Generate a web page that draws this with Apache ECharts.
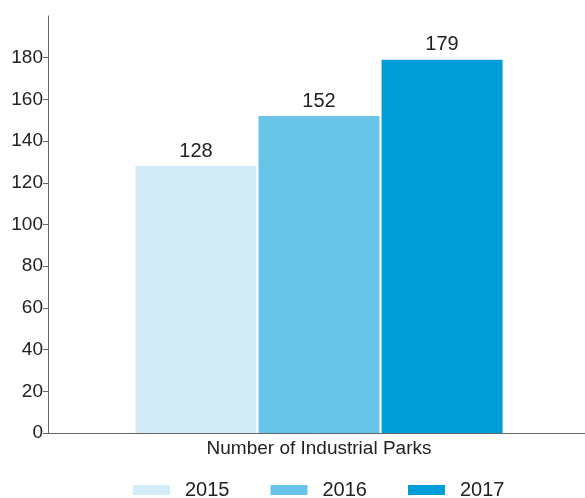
<!DOCTYPE html>
<html><head><meta charset="utf-8">
<script src="https://cdn.jsdelivr.net/npm/echarts@6/dist/echarts.min.js"></script>
<style>html,body{margin:0;padding:0;background:#fff}#c{width:585px;height:498px}</style>
</head><body><div id="c"></div>
<script>
const categories = ["Number of Industrial Parks"];
const seriesNames = ["2015", "2016", "2017"];
const values2015 = [128];
const values2016 = [152];
const values2017 = [179];
const yTicks = [0, 20, 40, 60, 80, 100, 120, 140, 160, 180];
const colors = ["#d3ecf7", "#68c4e8", "#009ed9"];
const allValues = [values2015, values2016, values2017];
const font = "Liberation Sans";
const chart = echarts.init(document.getElementById('c'));
chart.setOption({
  animation: false,
  textStyle: { fontFamily: font },
  grid: { left: 48, top: 16, right: -5, height: 417, containLabel: false, outerBoundsMode: 'none' },
  legend: {
    left: 133, top: 480, padding: 0, icon: 'rect',
    itemWidth: 37, itemHeight: 10, itemGap: 41,
    textStyle: { fontSize: 20, color: '#222', fontFamily: font, padding: [0,0,0,10] },
    data: seriesNames
  },
  xAxis: {
    type: 'category', data: categories,
    axisLine: { lineStyle: { color: '#666', width: 1 } },
    axisTick: { show: false },
    axisLabel: { fontSize: 19, color: '#222', margin: 6 }
  },
  yAxis: {
    type: 'value', min: 0, max: 200, interval: 20,
    splitLine: { show: false },
    axisLine: { show: true, lineStyle: { color: '#666', width: 1 } },
    axisTick: { show: true, length: 5, lineStyle: { color: '#666' }, customValues: yTicks },
    axisLabel: { fontSize: 19, color: '#222', margin: 5, customValues: yTicks }
  },
  series: seriesNames.map((n, i) => ({
    name: n, type: 'bar', data: allValues[i],
    barWidth: 121, barGap: '1.7%',
    itemStyle: { color: colors[i] },
    label: { show: true, position: 'top', distance: 5, fontSize: 20, color: '#222' }
  }))
});
</script></body></html>
